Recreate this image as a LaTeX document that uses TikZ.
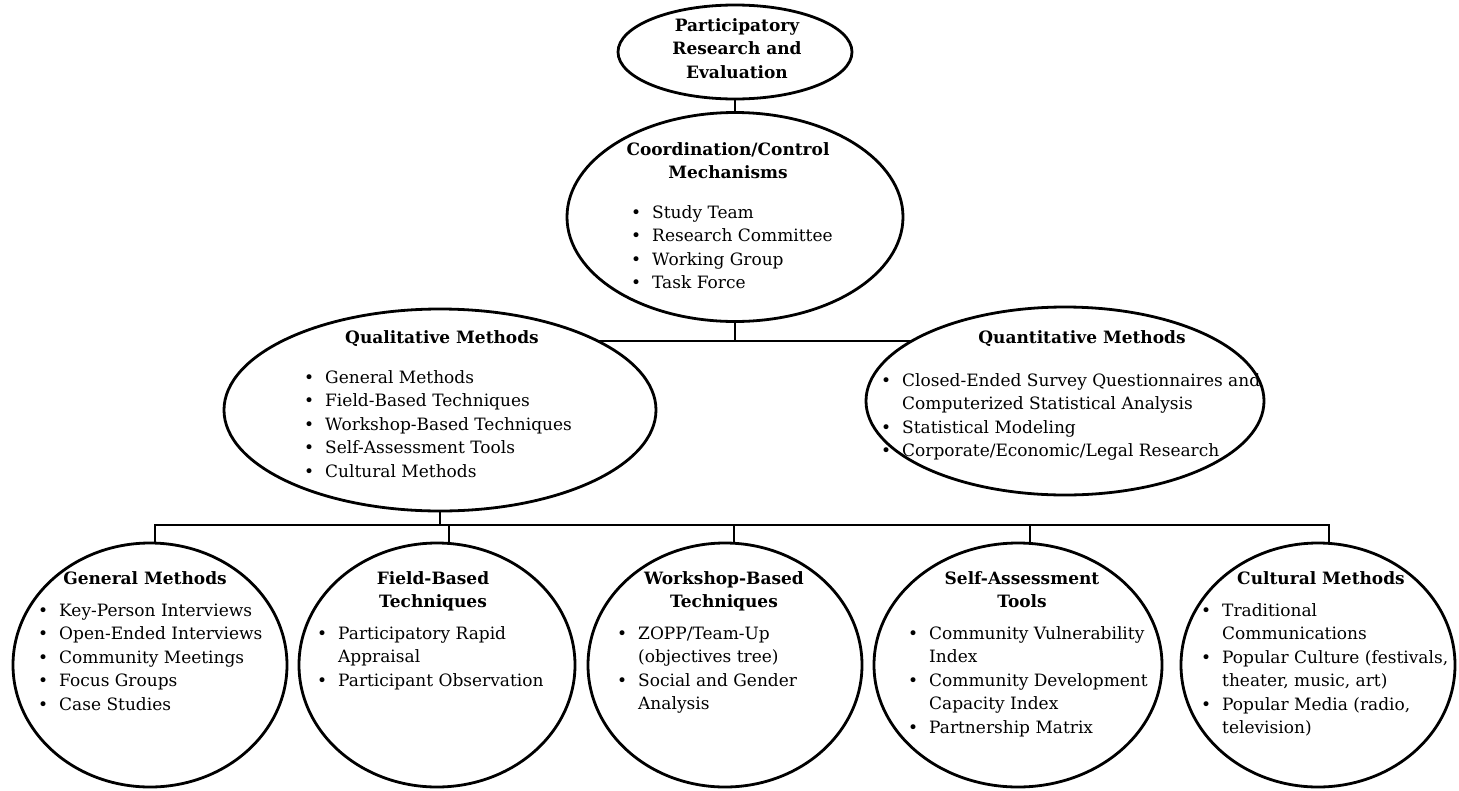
\documentclass[tikz,border=0pt]{standalone}
\usepackage{fontspec}
\setmainfont{DejaVu Serif}
\usetikzlibrary{shapes.geometric,backgrounds}
\newcommand{\fsz}{\fontsize{17}{23.5}\selectfont}
\newcommand{\bu}{\makebox[21pt][l]{\textbullet}}
\newcommand{\blist}[1]{\begin{tabular}[t]{@{}l@{}l@{}}#1\end{tabular}}
\newcommand{\ctitle}[1]{\begin{tabular}[t]{@{}c@{}}#1\end{tabular}}
\begin{document}
\begin{tikzpicture}[x=1pt,y=-1pt,
  conn/.style={line width=2.6pt},
  ell/.style={ellipse, draw, fill=white, inner sep=0pt, line width=2.8pt},
  ttl/.style={anchor=base, inner sep=0pt, font=\fsz\bfseries},
  lst/.style={anchor=base west, inner sep=0pt, font=\fsz}]
\useasboundingbox (0,0) rectangle (1459,790);

% ellipses
\node[ell, minimum width=234pt, minimum height=94pt] (top) at (735,52) {};
\node[ell, minimum width=336pt, minimum height=209pt] (coord) at (735,217) {};
\node[ell, minimum width=432pt, minimum height=202pt] (qual) at (440,410) {};
\node[ell, minimum width=398pt, minimum height=188pt] (quant) at (1065,401) {};
\node[ell, minimum width=274pt, minimum height=244pt] (gen) at (150,665) {};
\node[ell, minimum width=276pt, minimum height=244pt] (fld) at (437,665) {};
\node[ell, minimum width=274pt, minimum height=244pt] (wsh) at (725,665) {};
\node[ell, minimum width=288pt, minimum height=244pt] (self) at (1018,665) {};
\node[ell, minimum width=274pt, minimum height=244pt] (cult) at (1318,665) {};

% connectors
\coordinate (j1) at (735,341);
\coordinate (b) at (0,525);
\begin{pgfonlayer}{background}
\draw[conn] (top.center) -- (coord.center);
\draw[conn] (coord.center) -- (j1);
\draw[conn] (qual.center |- j1) -- (quant.center |- j1);
\draw[conn] (qual.center) -- (qual.center |- b);
\draw[conn] ([xshift=5pt]gen.center) |- ([xshift=11pt]cult.center |- b) -- ([xshift=11pt]cult.center);
\draw[conn] ([xshift=12pt]fld.center) -- ([xshift=12pt]fld.center |- b);
\draw[conn] ([xshift=9pt]wsh.center) -- ([xshift=9pt]wsh.center |- b);
\draw[conn] ([xshift=12pt]self.center) -- ([xshift=12pt]self.center |- b);
\end{pgfonlayer}

% texts
\node[ttl] (topT) at (737,31) {\ctitle{Participatory\\Research and\\Evaluation}};

\node[ttl] (coordT) at (728,155) {\ctitle{Coordination/Control\\Mechanisms}};
\node[lst] (coordL) at (631,218) {\blist{\bu&Study Team\\ \bu&Research Committee\\ \bu&Working Group\\ \bu&Task Force}};

\node[ttl] (qualT) at (442,343) {Qualitative Methods};
\node[lst] (qualL) at (304,383) {\blist{\bu&General Methods\\ \bu&Field-Based Techniques\\ \bu&Workshop-Based Techniques\\ \bu&Self-Assessment Tools\\ \bu&Cultural Methods}};

\node[ttl] (quantT) at (1082,343) {Quantitative Methods};
\node[lst] (quantL) at (881,386) {\blist{\bu&Closed-Ended Survey Questionnaires and\\ &Computerized Statistical Analysis\\ \bu&Statistical Modeling\\ \bu&Corporate/Economic/Legal Research}};

\node[ttl] (genT) at (145,584) {General Methods};
\node[lst] (genL) at (38,616) {\blist{\bu&Key-Person Interviews\\ \bu&Open-Ended Interviews\\ \bu&Community Meetings\\ \bu&Focus Groups\\ \bu&Case Studies}};

\node[ttl] (fldT) at (433,584) {\ctitle{Field-Based\\Techniques}};
\node[lst] (fldL) at (317,639) {\blist{\bu&Participatory Rapid\\ &Appraisal\\ \bu&Participant Observation}};

\node[ttl] (wshT) at (724,584) {\ctitle{Workshop-Based\\Techniques}};
\node[lst] (wshL) at (617,639) {\blist{\bu&ZOPP/Team-Up\\ &(objectives tree)\\ \bu&Social and Gender\\ &Analysis}};

\node[ttl] (selfT) at (1022,584) {\ctitle{Self-Assessment\\Tools}};
\node[lst] (selfL) at (908,639) {\blist{\bu&Community Vulnerability\\ &Index\\ \bu&Community Development\\ &Capacity Index\\ \bu&Partnership Matrix}};

\node[ttl] (cultT) at (1321,584) {Cultural Methods};
\node[lst] (cultL) at (1201,616) {\blist{\bu&Traditional\\ &Communications\\ \bu&Popular Culture (festivals,\\ &theater, music, art)\\ \bu&Popular Media (radio,\\ &television)}};
\end{tikzpicture}
\end{document}
